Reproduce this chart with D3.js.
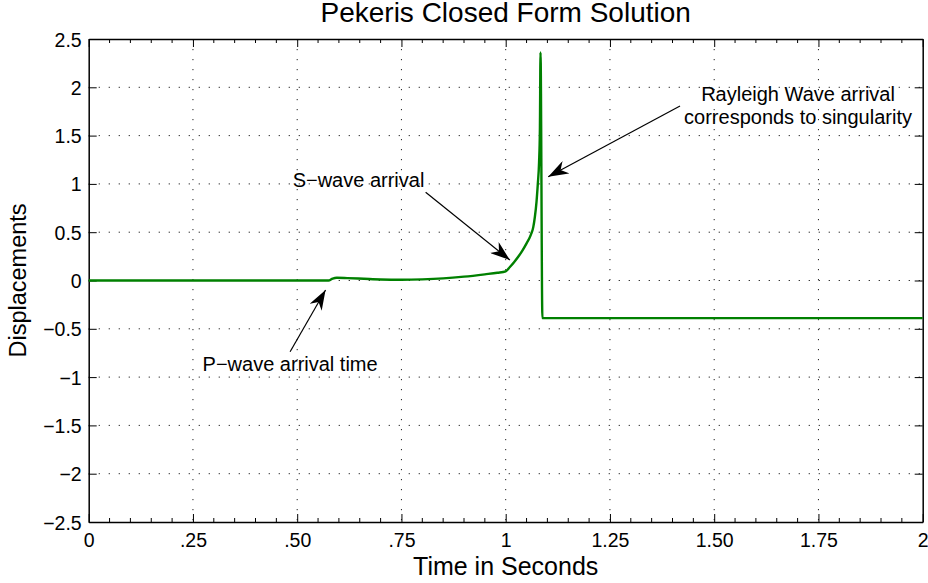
<!DOCTYPE html>
<html>
<head>
<meta charset="utf-8">
<script src="https://cdn.jsdelivr.net/npm/d3@7"></script>
<style>
  html, body { margin: 0; padding: 0; background: #fff; }
  svg { display: block; font-family: "Liberation Sans", Arial, Helvetica, sans-serif; }
</style>
</head>
<body>
<svg id="chart" width="928" height="583"></svg>
<script>
// Pekeris solution: surface displacement versus time
const time = [0, 0.575, 0.585, 0.595, 0.62, 0.66, 0.70, 0.75, 0.80, 0.85, 0.90, 0.95, 0.98, 1.0,
              1.01, 1.02, 1.03, 1.04, 1.05, 1.06, 1.066, 1.07, 1.074, 1.077, 1.08, 1.082, 1.0835, 1.088, 2.0];
const displacement = [0, 0, 0.02, 0.028, 0.025, 0.018, 0.011, 0.008, 0.012, 0.022, 0.04, 0.064, 0.08, 0.095,
              0.14, 0.19, 0.246, 0.31, 0.385, 0.47, 0.55, 0.66, 0.82, 1.0, 1.22, 1.56, 2.36, -0.39, -0.39];

const xTicks = [0, 0.25, 0.5, 0.75, 1, 1.25, 1.5, 1.75, 2];
const xTickLabels = ["0", ".25", ".50", ".75", "1", "1.25", "1.50", "1.75", "2"];
const yTicks = [-2.5, -2, -1.5, -1, -0.5, 0, 0.5, 1, 1.5, 2, 2.5];

// annotations: text lines, text anchor (centre x, first baseline), arrow tail and tip, all in data units
const noteText = [["P\u2212wave arrival time"], ["S\u2212wave arrival"], ["Rayleigh Wave arrival", "corresponds to singularity"]];
const noteTextAt = [[0.483, -0.937], [0.647, 0.971], [1.701, 1.861]];
const noteTail = [[0.483, -0.737], [0.808, 0.913], [1.418, 1.806]];
const noteTip = [[0.568, -0.098], [1.010, 0.212], [1.102, 1.075]];

const margin = { left: 88.7, right: 928 - 922.7, top: 39, bottom: 583 - 522 };
const W = 928, H = 583;
const svg = d3.select("#chart");

const x = d3.scaleLinear().domain([0, 2]).range([margin.left, W - margin.right]);
const y = d3.scaleLinear().domain([-2.5, 2.5]).range([H - margin.bottom, margin.top]);

const x0 = x.range()[0], x1 = x.range()[1], y0 = y.range()[0], y1 = y.range()[1];
const fmtY = v => (v < 0 ? "\u2212" : "") + d3.format("")(Math.abs(v));

// dotted grid
const grid = svg.append("g").attr("stroke", "#222").attr("stroke-width", 1)
  .attr("stroke-dasharray", "1.2,8.8");
grid.selectAll("line.gx").data(xTicks.slice(1, -1)).join("line")
  .attr("x1", d => x(d)).attr("x2", d => x(d)).attr("y1", y1).attr("y2", y0);
grid.selectAll("line.gy").data(yTicks.slice(1, -1)).join("line")
  .attr("y1", d => y(d)).attr("y2", d => y(d)).attr("x1", x0).attr("x2", x1);

// axes: bottom/top with minor ticks, left/right major only; ticks point inward
const minor = d3.range(0, 2.0001, 0.05).filter(v => !xTicks.some(t => Math.abs(t - v) < 1e-9));
const tickFont = "19.5px";

const axBottom = svg.append("g").attr("transform", `translate(0,${y0})`)
  .call(d3.axisBottom(x).tickValues(xTicks).tickFormat((d, i) => xTickLabels[i]).tickSizeInner(-8).tickSizeOuter(0).tickPadding(11));
axBottom.append("g").selectAll("line").data(minor).join("line")
  .attr("x1", d => x(d)).attr("x2", d => x(d)).attr("y1", 0).attr("y2", -4).attr("stroke", "#000");

const axTop = svg.append("g").attr("transform", `translate(0,${y1})`)
  .call(d3.axisTop(x).tickValues(xTicks).tickFormat("").tickSizeInner(-8).tickSizeOuter(0));
axTop.append("g").selectAll("line").data(minor).join("line")
  .attr("x1", d => x(d)).attr("x2", d => x(d)).attr("y1", 0).attr("y2", 4).attr("stroke", "#000");

const axLeft = svg.append("g").attr("transform", `translate(${x0},0)`)
  .call(d3.axisLeft(y).tickValues(yTicks).tickFormat(fmtY).tickSizeInner(-8).tickSizeOuter(0).tickPadding(7));
const axRight = svg.append("g").attr("transform", `translate(${x1},0)`)
  .call(d3.axisRight(y).tickValues(yTicks).tickFormat("").tickSizeInner(-8).tickSizeOuter(0));

[axBottom, axTop, axLeft, axRight].forEach(g => {
  g.select(".domain").attr("stroke", "#000").attr("stroke-width", 1.5);
  g.selectAll(".tick line").attr("stroke", "#000").attr("stroke-width", 1);
  g.selectAll("text").attr("font-size", tickFont).attr("fill", "#000")
    .attr("font-family", "'Liberation Sans', Arial, Helvetica, sans-serif");
});
axLeft.selectAll("text").attr("dy", "0.36em");
axBottom.selectAll("text").attr("dy", "0.72em");

// data line
const line = d3.line().x(d => x(d[0])).y(d => y(d[1])).curve(d3.curveMonotoneX);
svg.append("path")
  .datum(d3.zip(time, displacement))
  .attr("fill", "none").attr("stroke", "#008000").attr("stroke-width", 2.4)
  .attr("stroke-linejoin", "round")
  .attr("d", line);

// annotations
const defs = svg.append("defs");
defs.append("marker").attr("id", "head")
  .attr("viewBox", "0 0 20 14").attr("refX", 20).attr("refY", 7)
  .attr("markerWidth", 20).attr("markerHeight", 14).attr("markerUnits", "userSpaceOnUse")
  .attr("orient", "auto")
  .append("path").attr("d", "M0,0 L20,7 L0,14 L6,7 Z").attr("fill", "#000");

noteText.forEach((lines, i) => {
  svg.append("line")
    .attr("x1", x(noteTail[i][0])).attr("y1", y(noteTail[i][1]))
    .attr("x2", x(noteTip[i][0])).attr("y2", y(noteTip[i][1]))
    .attr("stroke", "#000").attr("stroke-width", 1.2)
    .attr("marker-end", "url(#head)");
  const t = svg.append("text")
    .attr("x", x(noteTextAt[i][0])).attr("y", y(noteTextAt[i][1]))
    .attr("text-anchor", "middle").attr("font-size", "20px").attr("fill", "#000");
  lines.forEach((s, j) => t.append("tspan").attr("x", x(noteTextAt[i][0])).attr("dy", j ? 23.3 : 0).text(s));
});

// titles
svg.append("text").attr("x", (x0 + x1) / 2).attr("y", 22).attr("text-anchor", "middle")
  .attr("font-size", "28px").attr("fill", "#000").text("Pekeris Closed Form Solution");
svg.append("text").attr("x", (x0 + x1) / 2).attr("y", 575).attr("text-anchor", "middle")
  .attr("font-size", "25px").attr("fill", "#000").text("Time in Seconds");
svg.append("text").attr("transform", `translate(26,${(y0 + y1) / 2}) rotate(-90)`)
  .attr("text-anchor", "middle").attr("font-size", "23.5px").attr("fill", "#000").text("Displacements");
</script>
</body>
</html>
